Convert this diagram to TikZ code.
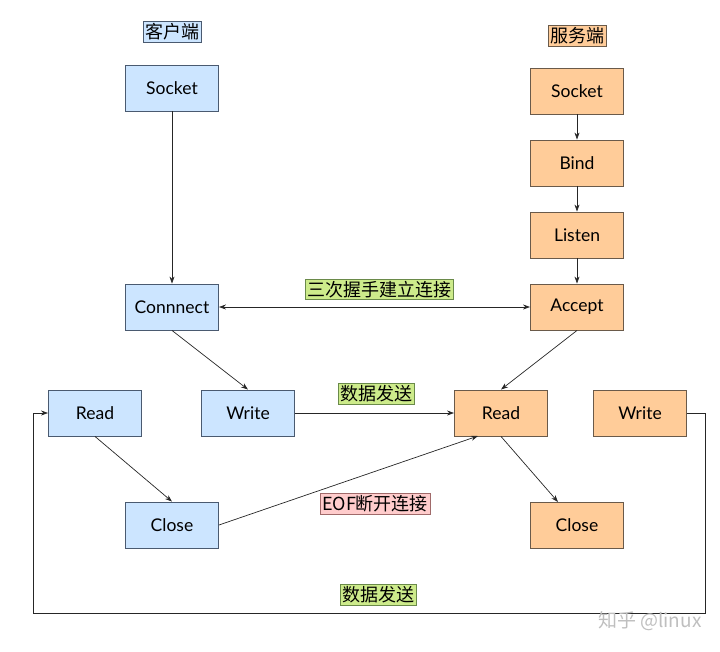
\documentclass[tikz,border=0pt]{standalone}
\usepackage{fontspec}
\setmainfont{Lato}
\newfontfamily\cjk{Noto Sans CJK SC}
\usetikzlibrary{arrows.meta}
\definecolor{cfill}{HTML}{CCE5FF}
\definecolor{cdraw}{HTML}{4A5A70}
\definecolor{sfill}{HTML}{FFCC99}
\definecolor{sdraw}{HTML}{6A5A4A}
\definecolor{gfill}{HTML}{CDEB8B}
\definecolor{gdraw}{HTML}{6A8A4A}
\definecolor{pfill}{HTML}{FFCCCC}
\definecolor{pdraw}{HTML}{A06A6A}
\tikzset{
  box/.style={draw, line width=0.9pt, minimum width=93pt, minimum height=46pt, inner sep=0pt, font=\fontsize{17.5}{17.5}\selectfont},
  cbox/.style={box, fill=cfill, draw=cdraw},
  sbox/.style={box, fill=sfill, draw=sdraw},
  tag/.style={draw, line width=0.8pt, inner sep=2pt, font=\cjk\fontsize{18}{18}\selectfont},
  arr/.style={-{Stealth[length=7pt,width=5pt]}, line width=0.7pt, draw=black!85},
}
\begin{document}
\begin{tikzpicture}[x=1pt,y=-1pt]
\useasboundingbox (0,0) rectangle (720,651);
% titles
\node[tag, fill=cfill, draw=cdraw] (ct) at (172,32) {客户端};
\node[tag, fill=sfill, draw=sdraw] (st) at (577,36) {服务端};
% client
\node[cbox] (csock) at (172,88) {Socket};
\node[cbox] (cconn) at (172,307) {Connnect};
\node[cbox] (cread) at (95,413) {Read};
\node[cbox] (cwrite) at (248,413) {Write};
\node[cbox] (cclose) at (172,525) {Close};
% server
\node[sbox] (ssock) at (577,91) {Socket};
\node[sbox] (sbind) at (577,163) {Bind};
\node[sbox] (slisten) at (577,235) {Listen};
\node[sbox] (saccept) at (577,307) {Accept};
\node[sbox] (sread) at (501,413) {Read};
\node[sbox] (swrite) at (640,413) {Write};
\node[sbox] (sclose) at (577,525) {Close};
% labels
\node[tag, fill=gfill, draw=gdraw] (l1) at (379,289.5) {三次握手建立连接};
\node[tag, fill=gfill, draw=gdraw] (l2) at (376,394) {数据发送};
\node[tag, fill=pfill, draw=pdraw] (l3) at (375,504) {EOF断开连接};
\node[tag, fill=gfill, draw=gdraw] (l4) at (378,595) {数据发送};
% connectors
\draw[arr] (csock) -- (cconn);
\draw[arr] (ssock) -- (sbind);
\draw[arr] (sbind) -- (slisten);
\draw[arr] (slisten) -- (saccept);
\draw[arr, {Stealth[length=7pt,width=5pt]}-{Stealth[length=7pt,width=5pt]}] (cconn) -- (saccept);
\draw[arr] (cconn.south) -- (cwrite.north);
\draw[arr] (saccept.south) -- (sread.north);
\draw[arr] (cwrite) -- (sread);
\draw[arr] (cread.south) -- (cclose.north);
\coordinate (sreadbl) at (478,436);
\draw[arr] (cclose.east) -- (sreadbl);
\coordinate (sclosetop) at (558,502);
\draw[arr] (sread.south) -- (sclosetop);
\coordinate (lp1) at (705,413);
\coordinate (lp2) at (705,613);
\coordinate (lp3) at (33,613);
\coordinate (lp4) at (33,413);
\draw[arr] (swrite.east) -- (lp1) -- (lp2) -- (lp3) -- (lp4) -- (cread.west);
% watermark
\node[text=black!25, font=\cjk\fontsize{19}{19}\selectfont, anchor=east] (wm) at (705,621) {知乎 @linux};
\end{tikzpicture}
\end{document}
